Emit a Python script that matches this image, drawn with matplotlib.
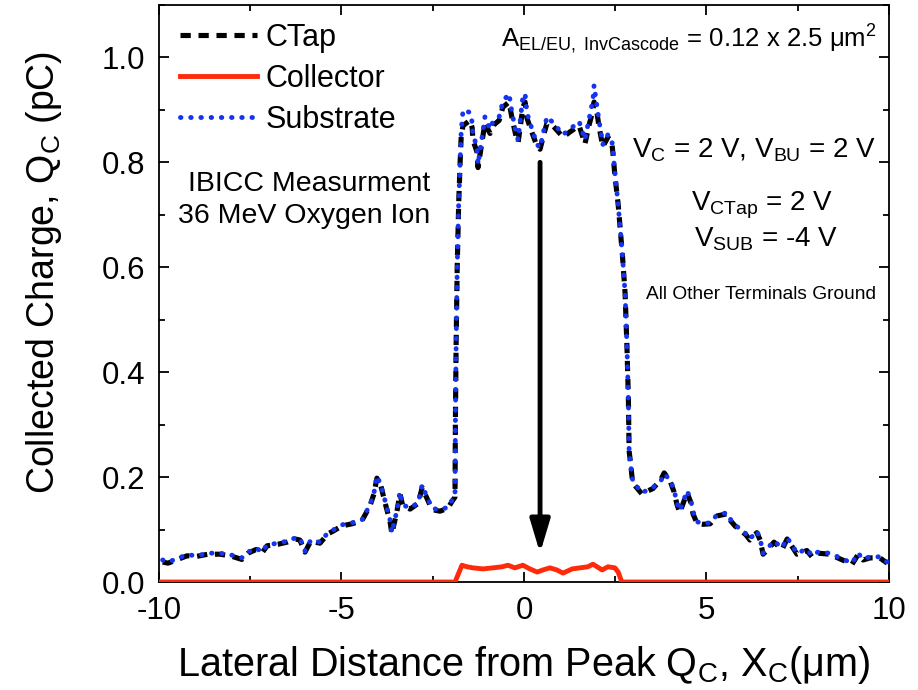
import matplotlib
matplotlib.use('Agg')
import matplotlib.pyplot as plt
from matplotlib.ticker import MultipleLocator

plt.rcParams['font.family'] = ['Liberation Sans', 'DejaVu Sans']
plt.rcParams['mathtext.fontset'] = 'custom'
plt.rcParams['mathtext.rm'] = 'Liberation Sans'
plt.rcParams['mathtext.it'] = 'Liberation Sans:italic'
plt.rcParams['axes.unicode_minus'] = False

# lateral position (um) and collected charge (pC)
x_sub = [-9.9, -9.75, -9.53, -9.23, -8.96, -8.66, -8.33, -8.05, -7.73, -7.56, -7.34, -7.18,
         -7.04, -6.74, -6.49, -6.27, -6.14, -6.0, -5.84, -5.59, -5.37, -5.23, -4.99, -4.71,
         -4.44, -4.22, -4.11, -4.03, -3.92, -3.81, -3.67, -3.62, -3.48, -3.40, -3.32, -3.12,
         -2.90, -2.79, -2.66, -2.52, -2.30, -2.08, -1.97, -1.89, -1.88, -1.86, -1.83, -1.79,
         -1.75, -1.72, -1.67, -1.48, -1.42, -1.40, -1.29, -1.26, -1.15, -1.07, -0.93, -0.85,
         -0.68, -0.58, -0.41, -0.33, -0.22, -0.16, -0.03, 0.03, 0.08, 0.16, 0.36, 0.44,
         0.55, 0.63, 0.79, 1.07, 1.26, 1.51, 1.67, 1.78, 1.89, 1.92, 2.0, 2.05,
         2.16, 2.30, 2.41, 2.44, 2.49, 2.58, 2.70, 2.77, 2.82, 2.86, 2.88, 2.93,
         2.96, 2.99, 3.23, 3.40, 3.53, 3.75, 3.84, 4.0, 4.11, 4.19, 4.27, 4.36,
         4.47, 4.58, 4.63, 4.74, 4.90, 5.10, 5.29, 5.56, 5.67, 5.78, 6.08, 6.19,
         6.38, 6.47, 6.55, 6.68, 6.85, 7.07, 7.21, 7.34, 7.48, 7.75, 7.89, 8.05,
         8.38, 8.66, 8.99, 9.15, 9.29, 9.48, 9.75, 9.95]
substrate = [0.042, 0.038, 0.044, 0.052, 0.050, 0.055, 0.055, 0.052, 0.046, 0.057, 0.065, 0.057,
             0.071, 0.074, 0.078, 0.084, 0.084, 0.059, 0.080, 0.076, 0.094, 0.099, 0.109, 0.113,
             0.118, 0.147, 0.170, 0.202, 0.185, 0.156, 0.118, 0.094, 0.137, 0.172, 0.147, 0.141,
             0.151, 0.185, 0.162, 0.141, 0.137, 0.143, 0.156, 0.165, 0.30, 0.45, 0.60, 0.72,
             0.80, 0.86, 0.90, 0.895, 0.876, 0.853, 0.83, 0.796, 0.847, 0.887, 0.863, 0.878,
             0.887, 0.916, 0.931, 0.895, 0.857, 0.843, 0.926, 0.931, 0.895, 0.876, 0.834, 0.828,
             0.863, 0.887, 0.876, 0.853, 0.863, 0.878, 0.843, 0.882, 0.92, 0.947, 0.906, 0.882,
             0.834, 0.853, 0.84, 0.82, 0.78, 0.72, 0.62, 0.55, 0.45, 0.35, 0.25, 0.22,
             0.20, 0.191, 0.17, 0.176, 0.18, 0.193, 0.206, 0.195, 0.176, 0.151, 0.136, 0.153,
             0.174, 0.153, 0.134, 0.115, 0.111, 0.113, 0.128, 0.132, 0.118, 0.109, 0.092, 0.082,
             0.097, 0.082, 0.055, 0.065, 0.078, 0.065, 0.084, 0.071, 0.055, 0.063, 0.050, 0.057,
             0.055, 0.046, 0.036, 0.055, 0.044, 0.048, 0.048, 0.038]
ctap = [0.038, 0.036, 0.042, 0.050, 0.049, 0.053, 0.053, 0.050, 0.043, 0.055, 0.062, 0.055,
        0.069, 0.072, 0.076, 0.082, 0.080, 0.057, 0.078, 0.074, 0.092, 0.097, 0.107, 0.111,
        0.117, 0.145, 0.168, 0.198, 0.183, 0.152, 0.115, 0.092, 0.135, 0.168, 0.145, 0.139,
        0.150, 0.180, 0.160, 0.138, 0.135, 0.141, 0.154, 0.162, 0.30, 0.45, 0.60, 0.72,
        0.80, 0.85, 0.87, 0.88, 0.866, 0.843, 0.82, 0.79, 0.84, 0.875, 0.855, 0.87,
        0.88, 0.905, 0.915, 0.885, 0.85, 0.838, 0.905, 0.915, 0.885, 0.868, 0.83, 0.825,
        0.855, 0.875, 0.87, 0.848, 0.858, 0.87, 0.835, 0.87, 0.90, 0.915, 0.895, 0.87,
        0.83, 0.848, 0.835, 0.815, 0.775, 0.72, 0.62, 0.55, 0.45, 0.35, 0.25, 0.22,
        0.20, 0.188, 0.168, 0.174, 0.178, 0.195, 0.208, 0.193, 0.172, 0.148, 0.132, 0.150,
        0.170, 0.150, 0.130, 0.112, 0.110, 0.111, 0.126, 0.130, 0.116, 0.107, 0.090, 0.080,
        0.094, 0.080, 0.053, 0.062, 0.076, 0.062, 0.082, 0.068, 0.053, 0.060, 0.048, 0.055,
        0.053, 0.044, 0.034, 0.052, 0.042, 0.046, 0.046, 0.036]

x_col = [-10.0, -1.89, -1.70, -1.56, -1.40, -1.12, -0.85, -0.60, -0.44, -0.25, -0.03, 0.16,
         0.36, 0.52, 0.71, 0.90, 1.07, 1.32, 1.53, 1.75, 1.89, 2.14, 2.30, 2.49,
         2.58, 2.68, 10.0]
collector = [0.0, 0.0, 0.032, 0.029, 0.027, 0.025, 0.027, 0.029, 0.032, 0.027, 0.032, 0.025,
             0.019, 0.023, 0.027, 0.023, 0.017, 0.025, 0.027, 0.029, 0.034, 0.023, 0.029, 0.027,
             0.019, 0.0, 0.0]

fig = plt.figure(figsize=(9.18, 6.9), dpi=100)
ax = fig.add_axes([0.1732, 0.1565, 0.7952, 0.8363])

ax.plot(x_sub, ctap, color='black', lw=3.7, linestyle=(0, (2.0, 1.5)), label='CTap', zorder=3)
ax.plot(x_col, collector, color='#ff2a0a', lw=3.5, label='Collector', zorder=4)
ax.plot(x_sub, substrate, color='#1434f0', lw=3.5, linestyle=(0, (0.1, 2.0)),
        dash_capstyle='round', label='Substrate', zorder=5)

# arrow pointing from the substrate plateau down to the collector signal
ax.annotate('', xy=(0.44, 0.055), xytext=(0.44, 0.80),
            arrowprops=dict(arrowstyle='-|>,head_length=1.0,head_width=0.3',
                            lw=3.5, color='black', mutation_scale=20,
                            shrinkA=0, shrinkB=0))

ax.set_xlim(-10, 10)
ax.set_ylim(0, 1.1)
ax.xaxis.set_major_locator(MultipleLocator(5))
ax.xaxis.set_minor_locator(MultipleLocator(2.5))
ax.yaxis.set_major_locator(MultipleLocator(0.2))
ax.yaxis.set_minor_locator(MultipleLocator(0.1))
ax.yaxis.set_major_formatter(matplotlib.ticker.FormatStrFormatter('%.1f'))
ax.tick_params(which='both', direction='in', top=True, right=True, width=1.3, labelsize=22.5)
ax.tick_params(which='major', length=7, pad=10)
ax.tick_params(which='minor', length=4.5)
for s in ax.spines.values():
    s.set_linewidth(1.3)

ax.set_xlabel(r'Lateral Distance from Peak Q$_\mathregular{C}$, X$_\mathregular{C}$(μm)',
              fontsize=28.5, labelpad=13)
ax.set_ylabel(r'Collected Charge, Q$_\mathregular{C}$ (pC)', fontsize=27)
ax.yaxis.set_label_coords(-0.13, 0.537)

ax.text(9.65, 1.034, r'A$_\mathregular{EL/EU,\ InvCascode}$ = 0.12 x 2.5 μm$^\mathregular{2}$',
        fontsize=18.5, ha='right', va='center')
ax.text(9.64, 0.824, r'V$_\mathregular{C}$ = 2 V, V$_\mathregular{BU}$ = 2 V',
        fontsize=20, ha='right', va='center')
ax.text(6.52, 0.718, r'V$_\mathregular{CTap}$ = 2 V', fontsize=20, ha='center', va='center')
ax.text(6.63, 0.653, r'V$_\mathregular{SUB}$ = -4 V', fontsize=20, ha='center', va='center')
ax.text(9.64, 0.549, 'All Other Terminals Ground', fontsize=13.8, ha='right', va='center')
ax.text(-2.58, 0.758, 'IBICC Measurment', fontsize=20.5, ha='right', va='center')
ax.text(-2.58, 0.698, '36 MeV Oxygen Ion', fontsize=20.5, ha='right', va='center')

ax.legend(loc='upper left', frameon=False, fontsize=22, handlelength=2.5,
          handletextpad=0.3, labelspacing=0.36, borderaxespad=0.18,
          bbox_to_anchor=(0.005, 1.0))

fig.savefig('out.png', dpi=100)
